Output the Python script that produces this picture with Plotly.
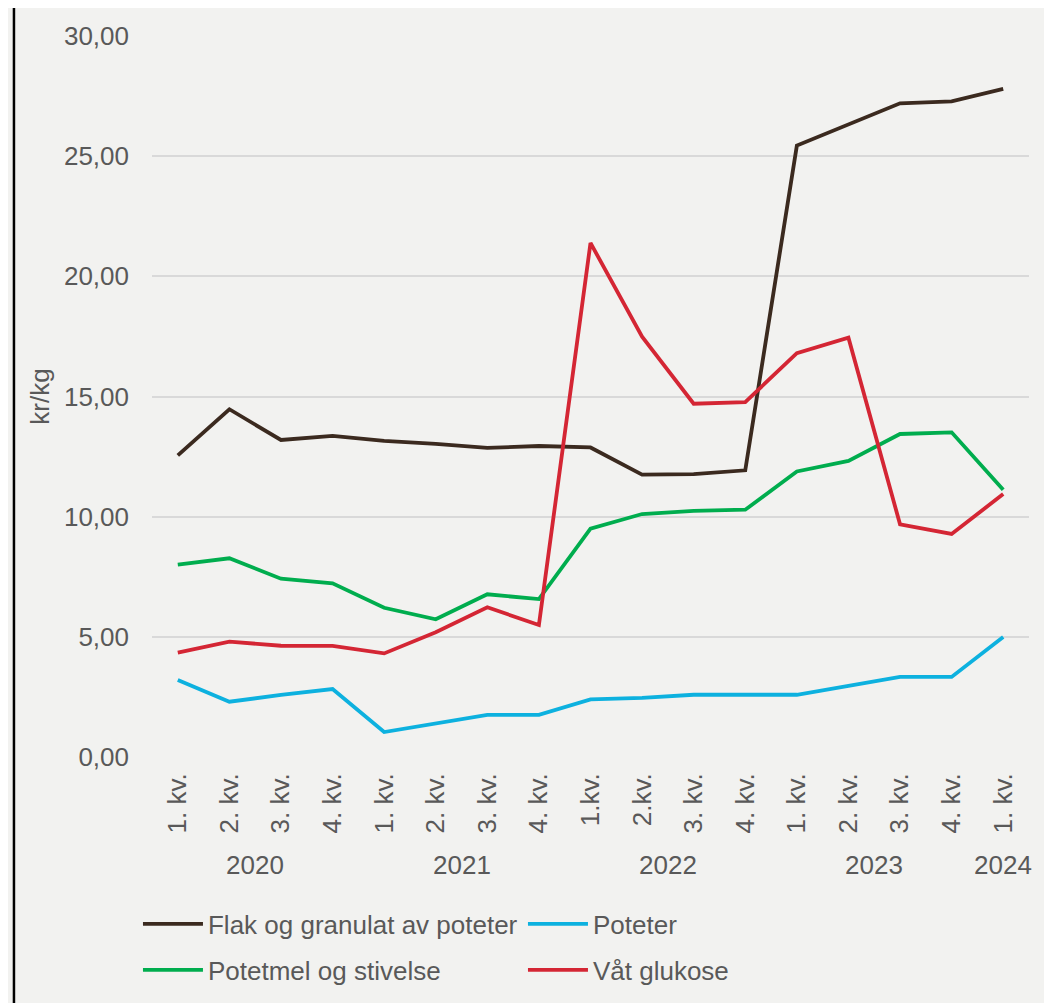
import plotly.graph_objects as go

quarters = ["1. kv.", "2. kv.", "3. kv.", "4. kv.",
            "1. kv.", "2. kv.", "3. kv.", "4. kv.",
            "1.kv.", "2.kv.", "3. kv.", "4. kv.",
            "1. kv.", "2. kv.", "3. kv.", "4. kv.",
            "1. kv."]
years = ["2020", "2021", "2022", "2023", "2024"]
year_quarter_counts = [4, 4, 4, 4, 1]

flak = [12.55, 14.47, 13.19, 13.36, 13.15, 13.03, 12.86, 12.94, 12.88,
        11.75, 11.77, 11.93, 25.44, 26.31, 27.20, 27.28, 27.80]
poteter = [3.20, 2.30, 2.58, 2.83, 1.04, 1.40, 1.75, 1.75, 2.40,
           2.46, 2.59, 2.59, 2.59, 2.96, 3.33, 3.33, 4.99]
potetmel = [8.00, 8.27, 7.42, 7.23, 6.21, 5.73, 6.77, 6.57, 9.50,
            10.11, 10.24, 10.29, 11.88, 12.32, 13.44, 13.51, 11.12]
glukose = [4.34, 4.80, 4.63, 4.62, 4.31, 5.19, 6.23, 5.49, 21.39,
           17.49, 14.70, 14.77, 16.80, 17.45, 9.68, 9.28, 10.94]

series = [
    ("Flak og granulat av poteter", flak, "#3b2a1f", "legend"),
    ("Poteter", poteter, "#0db1df", "legend"),
    ("Potetmel og stivelse", potetmel, "#00ad4e", "legend2"),
    ("Våt glukose", glukose, "#d42634", "legend2"),
]

FONT = "Liberation Sans, Arial, sans-serif"
TXT = "#595959"
BG = "#f2f2f0"

x_idx = list(range(len(quarters)))
fig = go.Figure()
for name, vals, col, leg in series:
    fig.add_trace(go.Scatter(x=x_idx, y=vals, name=name, mode="lines",
                             line=dict(color=col, width=3.8),
                             legend=leg))

# year group labels centred under their quarters
annotations = []
start = 0
for yr, n in zip(years, year_quarter_counts):
    center = start + (n - 1) / 2
    annotations.append(dict(x=center, y=-0.15, xref="x", yref="paper",
                            text=yr, showarrow=False, yanchor="middle",
                            font=dict(family=FONT, size=26, color=TXT)))
    start += n

legend_common = dict(orientation="h", x=-0.016, xanchor="left",
                     yanchor="middle", bgcolor="rgba(0,0,0,0)",
                     entrywidth=310, entrywidthmode="pixels", itemwidth=60,
                     tracegroupgap=0,
                     font=dict(family=FONT, size=26, color=TXT))

fig.update_layout(
    width=1044, height=1015,
    margin=dict(l=144, r=23, t=28, b=266),
    paper_bgcolor=BG, plot_bgcolor=BG,
    separators=", ",
    font=dict(family=FONT, size=26, color=TXT),
    annotations=annotations,
    xaxis=dict(range=[-0.5, len(quarters) - 0.5], tickmode="array",
               tickvals=x_idx, ticktext=quarters, tickangle=-90,
               showgrid=False, zeroline=False, showline=False,
               ticks="", ticklabelstandoff=10,
               tickfont=dict(family=FONT, size=26, color=TXT)),
    yaxis=dict(range=[0, 30], dtick=5, tickformat=".2f",
               showgrid=True, gridcolor="#d9d9d9", gridwidth=2,
               zeroline=False, showline=False, ticks="",
               ticklabelstandoff=22,
               tickfont=dict(family=FONT, size=26, color=TXT),
               title=dict(text="kr/kg", standoff=6,
                          font=dict(family=FONT, size=26, color=TXT))),
    legend=dict(y=-0.2316, **legend_common),
    legend2=dict(y=-0.2954, **legend_common),
    shapes=[dict(type="line", xref="paper", yref="paper",
                 x0=-0.1574, x1=-0.1574, y0=1.0388, y1=-0.37,
                 line=dict(color="#000000", width=2.5))],
    showlegend=True,
)

fig.write_html("out.html")
